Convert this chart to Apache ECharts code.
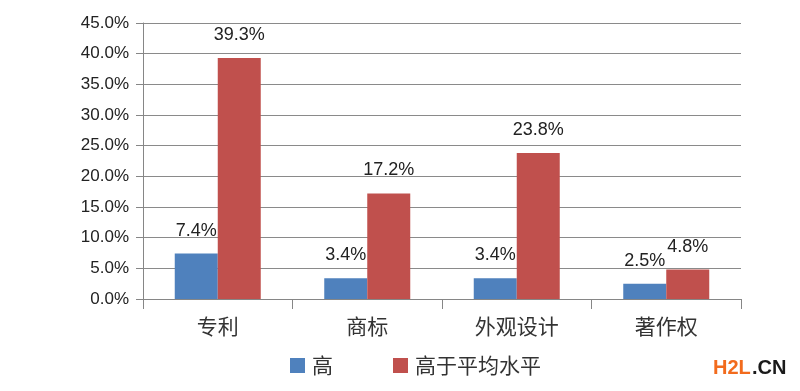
<!DOCTYPE html>
<html><head><meta charset="utf-8">
<script src="https://cdn.jsdelivr.net/npm/echarts@6/dist/echarts.min.js"></script>
<style>html,body{margin:0;padding:0;background:#fff}#c{width:800px;height:391px}</style>
</head><body><div id="c"></div>
<script>
const categories = ['专利', '商标', '外观设计', '著作权'];
const seriesNames = ['高', '高于平均水平'];
const highValues = [7.4, 3.4, 3.4, 2.5];
const aboveAvgValues = [39.3, 17.2, 23.8, 4.8];

const chart = echarts.init(document.getElementById('c'));
const labelStyle = {
  show: true, position: 'top', distance: 14,
  fontFamily: 'Liberation Sans', fontSize: 18, color: '#222',
  formatter: p => p.value.toFixed(1) + '%'
};
chart.setOption({
  animation: false,
  backgroundColor: '#fff',
  grid: { left: 143, right: 59, top: 23, bottom: 92 },
  legend: {
    left: 285, top: 350, itemWidth: 15, itemHeight: 15, itemGap: 60,
    icon: 'rect',
    textStyle: { fontFamily: 'Noto Sans CJK SC', fontSize: 21, color: '#333', padding: [0, 0, 0, 2] },
    data: seriesNames
  },
  xAxis: {
    type: 'category', data: categories,
    axisLine: { lineStyle: { color: '#868686', width: 1 } },
    axisTick: { show: true, length: 10, lineStyle: { color: '#868686' } },
    axisLabel: { fontFamily: 'Noto Sans CJK SC', fontSize: 21, color: '#333', margin: 17 }
  },
  yAxis: {
    type: 'value', min: 0, max: 45, interval: 5,
    axisLine: { show: true, lineStyle: { color: '#868686' } },
    axisTick: { show: true, length: 7, lineStyle: { color: '#868686' } },
    splitLine: { lineStyle: { color: '#8a8a8a', width: 1 } },
    axisLabel: { fontFamily: 'Liberation Sans', fontSize: 17, color: '#222', margin: 14,
      formatter: v => v.toFixed(1) + '%' }
  },
  series: [
    { name: seriesNames[0], type: 'bar', data: highValues, barWidth: 43, barGap: '0%',
      itemStyle: { color: '#4F81BD' }, label: labelStyle },
    { name: seriesNames[1], type: 'bar', data: aboveAvgValues, barWidth: 43,
      itemStyle: { color: '#C0504D' }, label: labelStyle }
  ],
  graphic: [
    { type: 'text', left: 713, top: 358, style: { text: 'H2L', fill: '#F26B1D', font: 'bold 20px "Liberation Sans"' } },
    { type: 'text', left: 752, top: 358, style: { text: '.CN', fill: '#1a1a1a', font: 'bold 20px "Liberation Sans"' } }
  ]
});
</script></body></html>
